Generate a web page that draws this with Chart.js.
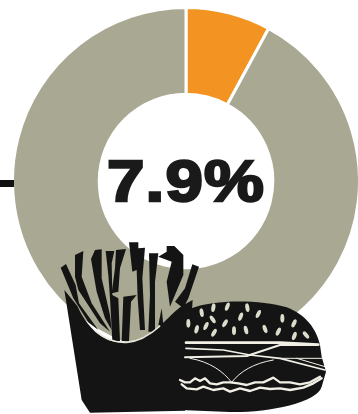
<!DOCTYPE html>
<html lang="en">
<head>
<meta charset="UTF-8">
<title>7.9%</title>
<script src="https://cdn.jsdelivr.net/npm/chart.js"></script>
<style>
  html, body { margin: 0; padding: 0; background: #fff; overflow: hidden; }
  #box { position: relative; width: 358px; height: 414px; overflow: hidden; }
  #tick { position: absolute; left: 0; top: 180px; width: 14px; height: 7px; background: #111; }
  #share { position: absolute; left: 0; width: 372px; top: 150px; text-align: center;
    font: 900 58px "Liberation Sans", Arial, sans-serif; color: #1a1a1a;
    -webkit-text-stroke: 2.4px #1a1a1a; letter-spacing: 1px; line-height: 62px;
    transform: scaleX(1.16); transform-origin: 186px 0; }
</style>
</head>
<body>
<div id="box">
  <canvas id="ring" width="364" height="414"></canvas>
  <div id="tick"></div>
  <div id="share">7.9%</div>
</div>
<script>
const segments = ['Share', 'Rest'];
const shareValues = [7.9, 92.1];
const segmentColors = ['#f39422', '#a9a892'];

const fries = [
  [[17,98],[33,87],[62,150],[72,205],[130,285],[100,262],[55,190]],
  [[60,60],[85,48],[80,125],[110,205],[165,290],[135,265],[70,165],[60,125]],
  [[108,72],[120,45],[140,43],[140,130],[165,240],[170,285],[150,250],[125,170]],
  [[152,48],[178,48],[170,85],[172,180],[190,190],[195,318],[172,318],[165,190],[160,120]],
  [[183,45],[213,42],[195,100],[190,170],[170,175],[180,100]],
  [[205,185],[245,180],[228,200],[222,318],[200,318]],
  [[222,22],[250,22],[250,40],[270,38],[262,130],[270,285],[255,285],[248,190],[245,105],[232,110]],
  [[282,55],[310,55],[300,140],[300,290],[280,290],[285,180]],
  [[310,65],[335,50],[335,33],[358,33],[385,60],[385,120],[362,175],[345,215],[335,140],[350,80]],
  [[412,88],[432,95],[400,190],[385,220],[360,200],[390,160]],
  [[320,220],[325,270],[310,270]]
];
const seeds = [[605,278,-10],[640,263,10],[682,260,20],[742,263,-10],[775,282,25],[638,298,-35],
  [590,328,15],[618,318,25],[675,310,30],[722,290,20],[642,338,30],[702,332,0],[738,330,-15],
  [795,327,-20],[835,335,25],[847,295,0],[882,310,25],[883,348,20],[918,345,-40],[565,310,0]];
const lettuceTop = [[0,255],[15,262],[30,262],[45,250],[60,258],[75,250],[90,265],[110,268],[130,262],[150,262],
  [175,265],[200,270],[225,262],[250,262],[280,248],[300,262],[330,262],[360,268],[390,262],[420,245]];
const lettuceLow = [[5,268],[20,280],[50,283],[70,275],[100,285],[130,280],[150,290],[180,280],[210,288],
  [240,278],[270,282],[300,280],[330,285],[370,278],[400,265],[425,250]];

function trace(ctx, pts) {
  ctx.beginPath();
  pts.forEach((p, i) => i ? ctx.lineTo(p[0], p[1]) : ctx.moveTo(p[0], p[1]));
}

// Fries and burger drawn over the ring, on a 3x grid
const foodPlugin = {
  id: 'food',
  afterDraw(chart) {
    const ctx = chart.ctx;
    ctx.save();
    ctx.translate(0, 220);
    ctx.scale(1 / 3, 1 / 3);
    ctx.fillStyle = '#141414';

    ctx.save();
    ctx.translate(165, 45);
    fries.forEach(f => { trace(ctx, f); ctx.closePath(); ctx.fill(); });
    ctx.restore();

    // burger
    ctx.beginPath();
    ctx.moveTo(575, 265);
    ctx.bezierCurveTo(640, 238, 780, 238, 860, 262);
    ctx.bezierCurveTo(920, 285, 950, 330, 960, 375);
    ctx.lineTo(965, 410);
    ctx.lineTo(978, 455);
    ctx.lineTo(965, 500);
    ctx.bezierCurveTo(950, 550, 800, 578, 690, 576);
    ctx.lineTo(540, 570);
    ctx.lineTo(540, 300);
    ctx.closePath();
    ctx.fill();

    // carton
    ctx.beginPath();
    ctx.moveTo(193, 210);
    ctx.lineTo(232, 258);
    ctx.bezierCurveTo(270, 340, 320, 368, 370, 368);
    ctx.bezierCurveTo(450, 368, 490, 300, 545, 258);
    ctx.lineTo(578, 240);
    ctx.lineTo(555, 572);
    ctx.lineTo(270, 578);
    ctx.lineTo(245, 540);
    ctx.closePath();
    ctx.fill();

    // lip of the carton
    ctx.strokeStyle = '#e8e7dc';
    ctx.lineWidth = 5;
    ctx.beginPath();
    ctx.moveTo(285, 332);
    ctx.bezierCurveTo(320, 362, 350, 369, 380, 367);
    ctx.bezierCurveTo(420, 365, 450, 345, 480, 318);
    ctx.stroke();

    // sesame seeds
    ctx.fillStyle = '#dddccc';
    seeds.forEach(s => {
      ctx.beginPath();
      ctx.ellipse(s[0], s[1], 6, 13, s[2] * Math.PI / 180, 0, Math.PI * 2);
      ctx.fill();
    });

    // filling
    ctx.save();
    ctx.translate(540, 225);
    ctx.strokeStyle = '#f1efe6';
    ctx.lineCap = 'round';
    ctx.lineJoin = 'round';
    ctx.lineWidth = 8;
    trace(ctx, [[18,143],[300,143],[415,149]]);
    ctx.stroke();
    ctx.lineWidth = 5;
    trace(ctx, [[18,160],[130,165],[210,180],[300,190],[435,225]]);
    ctx.stroke();
    ctx.lineWidth = 6;
    trace(ctx, [[15,187],[200,183],[300,150],[410,150]]);
    ctx.stroke();
    ctx.lineWidth = 3;
    trace(ctx, [[300,190],[425,190]]);
    ctx.stroke();
    trace(ctx, [[350,190],[435,215]]);
    ctx.stroke();
    ctx.beginPath();
    ctx.moveTo(30, 190);
    ctx.bezierCurveTo(90, 200, 130, 230, 155, 262);
    ctx.bezierCurveTo(180, 230, 220, 205, 280, 195);
    ctx.stroke();
    ctx.lineWidth = 7;
    [lettuceTop, lettuceLow].forEach(line => { trace(ctx, line); ctx.stroke(); });
    ctx.restore();

    ctx.restore();
  }
};

new Chart(document.getElementById('ring'), {
  type: 'doughnut',
  data: {
    labels: segments,
    datasets: [{
      data: shareValues,
      backgroundColor: segmentColors,
      borderColor: '#ffffff',
      borderWidth: 3
    }]
  },
  options: {
    responsive: false,
    animation: false,
    cutout: '50%',
    layout: { padding: { left: 11, right: 3, top: 6, bottom: 58 } },
    plugins: { legend: { display: false }, tooltip: { enabled: false } }
  },
  plugins: [foodPlugin]
});
</script>
</body>
</html>
